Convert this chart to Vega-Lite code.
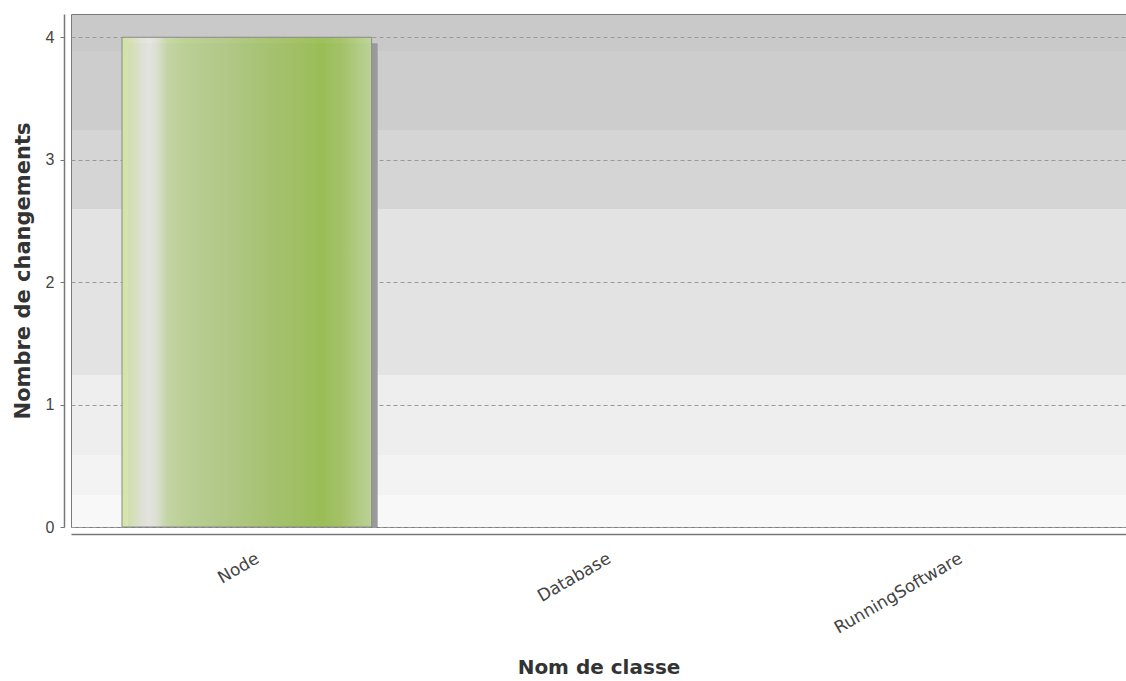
{
  "$schema": "https://vega.github.io/schema/vega-lite/v6.json",
  "autosize": "none",
  "width": 1055,
  "height": 513,
  "padding": {"left": 71, "top": 14, "right": 0, "bottom": 154},
  "background": "white",
  "config": {
    "view": {
      "stroke": "#7a7a7a",
      "strokeWidth": 1,
      "fill": {
        "gradient": "linear",
        "x1": 0, "y1": 0, "x2": 0, "y2": 1,
        "stops": [
          {"offset": 0, "color": "#c9c9c9"},
          {"offset": 0.0702, "color": "#c9c9c9"},
          {"offset": 0.0702, "color": "#cdcdcd"},
          {"offset": 0.2261, "color": "#cdcdcd"},
          {"offset": 0.2261, "color": "#d5d5d5"},
          {"offset": 0.3782, "color": "#d5d5d5"},
          {"offset": 0.3782, "color": "#e3e3e3"},
          {"offset": 0.7037, "color": "#e3e3e3"},
          {"offset": 0.7037, "color": "#eeeeee"},
          {"offset": 0.8596, "color": "#eeeeee"},
          {"offset": 0.8596, "color": "#f3f3f3"},
          {"offset": 0.9357, "color": "#f3f3f3"},
          {"offset": 0.9357, "color": "#f8f8f8"},
          {"offset": 1, "color": "#f8f8f8"}
        ]
      }
    }
  },
  "data": {
    "values": [
      {"classe": "Node", "n": 4},
      {"classe": "Database", "n": 0},
      {"classe": "RunningSoftware", "n": 0}
    ]
  },
  "encoding": {
    "x": {
      "field": "classe",
      "type": "nominal",
      "sort": null,
      "title": "Nom de classe",
      "scale": {"domain": ["Node", "Database", "RunningSoftware"], "paddingInner": 0.29, "paddingOuter": 0.145},
      "axis": {
        "offset": 7,
        "ticks": false,
        "tickSize": 0,
        "domainColor": "#777777",
        "domainWidth": 1.5,
        "grid": false,
        "labelAngle": -30,
        "labelAlign": "right",
        "labelBaseline": "top",
        "labelOffset": 7,
        "labelPadding": 16,
        "labelOverlap": false,
        "labelFont": "DejaVu Sans",
        "labelFontSize": 17,
        "labelColor": "#444444",
        "titleFont": "DejaVu Sans",
        "titleFontSize": 20,
        "titleFontWeight": "bold",
        "titleColor": "#333333",
        "titlePadding": 21
      }
    },
    "y": {
      "field": "n",
      "type": "quantitative",
      "title": "Nombre de changements",
      "scale": {"domain": [0, 4.19], "nice": false},
      "axis": {
        "offset": 7,
        "values": [0, 1, 2, 3, 4],
        "format": "d",
        "domainColor": "#777777",
        "domainWidth": 1.5,
        "tickColor": "#777777",
        "tickSize": 4,
        "labelFont": "Liberation Sans",
        "labelFontSize": 16,
        "labelColor": "#444444",
        "labelPadding": 6,
        "grid": true,
        "gridColor": "#999999",
        "gridDash": [4, 3],
        "gridWidth": 1,
        "titleFont": "DejaVu Sans",
        "titleFontSize": 21,
        "titleFontWeight": "bold",
        "titleColor": "#333333",
        "titlePadding": 12
      }
    }
  },
  "layer": [
    {
      "transform": [{"filter": "datum.n > 0"}],
      "mark": {"type": "bar", "color": "#9a9a9a", "xOffset": 6, "yOffset": 6, "clip": true}
    },
    {
      "transform": [{"filter": "datum.n > 0"}],
      "mark": {
        "type": "bar",
        "fillOpacity": 0.93,
        "stroke": "#8a8a8a",
        "strokeWidth": 1,
        "fill": {
          "gradient": "linear",
          "x1": 0, "y1": 0, "x2": 1, "y2": 0,
          "stops": [
            {"offset": 0, "color": "#d2e3a0"},
            {"offset": 0.04, "color": "#d8e3b8"},
            {"offset": 0.08, "color": "#e2e6d8"},
            {"offset": 0.11, "color": "#e8e8e4"},
            {"offset": 0.14, "color": "#dfe4d2"},
            {"offset": 0.18, "color": "#c8d9a6"},
            {"offset": 0.25, "color": "#bcd394"},
            {"offset": 0.4, "color": "#b4cc88"},
            {"offset": 0.55, "color": "#a9c672"},
            {"offset": 0.7, "color": "#a0c260"},
            {"offset": 0.8, "color": "#9bc052"},
            {"offset": 0.88, "color": "#a4c564"},
            {"offset": 0.95, "color": "#b4cf84"},
            {"offset": 1, "color": "#bed597"}
          ]
        }
      }
    }
  ]
}
